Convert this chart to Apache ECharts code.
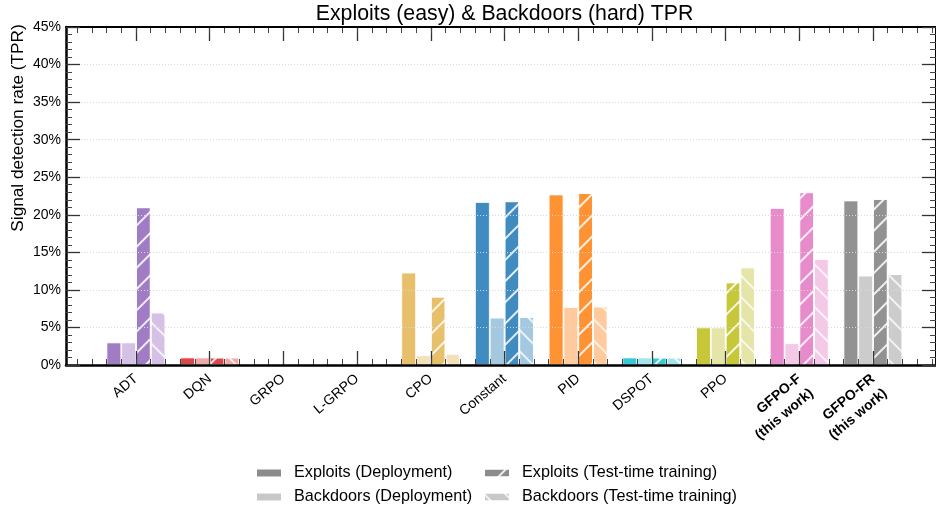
<!DOCTYPE html>
<html>
<head>
<meta charset="utf-8">
<script src="https://cdn.jsdelivr.net/npm/echarts@6/dist/echarts.min.js"></script>
<style>
html, body { margin: 0; padding: 0; background: #fff; }
#chart { width: 936px; height: 512px; }
</style>
</head>
<body>
<div id="chart"></div>
<script>
// Methods on the x axis (the last two are ours, drawn in bold)
const methods = ['ADT', 'DQN', 'GRPO', 'L-GRPO', 'CPO', 'Constant', 'PID', 'DSPOT', 'PPO',
  'GFPO-F\n(this work)', 'GFPO-FR\n(this work)'];
const boldMethods = ['GFPO-F\n(this work)', 'GFPO-FR\n(this work)'];

// Signal detection rate (TPR, %) per method
const exploitsDeployment  = [3.0, 1.0, 0.0, 0.0, 12.3, 21.7, 22.7, 1.0, 5.0, 20.9, 21.9];
const backdoorsDeployment = [3.0, 1.0, 0.0, 0.0, 1.3, 6.3, 7.7, 1.0, 5.0, 2.9, 11.9];
const exploitsTTT         = [21.0, 1.0, 0.1, 0.15, 9.1, 21.8, 22.9, 1.0, 11.0, 23.0, 22.1];
const backdoorsTTT        = [7.0, 1.0, 0.1, 0.15, 1.5, 6.4, 7.8, 1.0, 13.0, 14.1, 12.1];

// Y axis: 0% .. 45% in steps of 5%
const yMin = 0, yMax = 45, yStep = 5;

// Per-method colours: strong shade for exploits, pale shade for backdoors
const strongColors = ['#a07cc5', '#dc4748', '#9d6f66', '#4bae4b', '#e8c06c', '#408bbf',
  '#ff9232', '#3ac8d6', '#c6c739', '#e78bcb', '#929292'];
const paleColors = ['#d4c1e5', '#efa9a9', '#d0bbb7', '#abd9ab', '#f4e1ba', '#a5c8e1',
  '#ffcb9e', '#a2e5ec', '#e4e5a7', '#f4c9e7', '#cccccc'];

const FONT = '"Liberation Sans", Arial, Helvetica, sans-serif';

// Geometry of the bar slots: one category = UNIT px, centred at CENTER0 for the first
const UNIT = 73.7, CENTER0 = 136, FRAME_LEFT = 66, FRAME_W = 877, TOP = 27, PLOT_H = 338;
const frameMin = -(CENTER0 - FRAME_LEFT) / UNIT;
const frameMax = frameMin + FRAME_W / UNIT;

const hatchForward = {
  symbol: 'rect', symbolSize: 1, color: 'rgba(255,255,255,0.85)',
  dashArrayX: [1, 0], dashArrayY: [1.2, 12.6], rotation: -Math.PI / 4
};
const hatchBackward = {
  symbol: 'rect', symbolSize: 1, color: 'rgba(255,255,255,0.75)',
  dashArrayX: [1, 0], dashArrayY: [1.2, 12.6], rotation: Math.PI / 4
};

function barSeries(name, values, palette, legendColor, decal) {
  return {
    name: name,
    type: 'bar',
    xAxisIndex: 2,
    yAxisIndex: 2,
    barWidth: UNIT * 0.2,
    barGap: '0%',
    itemStyle: Object.assign({ color: legendColor, borderColor: '#fff', borderWidth: 0.8 },
      decal ? { decal: decal } : {}),
    emphasis: { disabled: true },
    data: values.map((v, i) => ({ value: v, itemStyle: { color: palette[i] } }))
  };
}

const hiddenY = (gridIndex) => ({
  type: 'value', gridIndex: gridIndex, min: yMin, max: yMax, interval: yStep,
  show: false
});

const legendBase = {
  icon: 'rect', itemWidth: 26, itemHeight: 9, padding: 0, selectedMode: false,
  textStyle: { fontFamily: FONT, fontSize: 16.2, color: '#000', padding: [0, 0, 0, 7] }
};

const minorTickAxis = (position) => ({
  type: 'value', gridIndex: 1, position: position, min: -0.8, max: methods.length - 1 + 0.8,
  interval: 0.2, z: 4,
  axisLine: { show: false, onZero: false },
  axisTick: { show: true, inside: true, length: 6, lineStyle: { color: '#444', width: 1 } },
  axisLabel: { show: false }, splitLine: { show: false }
});

const option = {
  animation: false,
  backgroundColor: '#fff',
  grid: [
    // frame with the percentage axes
    { left: FRAME_LEFT, top: TOP, width: FRAME_W, height: PLOT_H },
    // minor x ticks every 0.2 category
    { left: CENTER0 - 0.8 * UNIT, top: TOP, width: (methods.length - 1 + 1.6) * UNIT, height: PLOT_H },
    // bars, one band per method
    { left: CENTER0 - UNIT / 2, top: TOP, width: methods.length * UNIT, height: PLOT_H }
  ],
  xAxis: [
    { type: 'value', gridIndex: 0, position: 'bottom', min: frameMin, max: frameMax, z: 5,
      axisLine: { show: true, onZero: false, lineStyle: { color: '#000', width: 2.5 } },
      axisTick: { show: false }, axisLabel: { show: false }, splitLine: { show: false } },
    { type: 'value', gridIndex: 0, position: 'top', min: frameMin, max: frameMax, z: 5,
      axisLine: { show: true, onZero: false, lineStyle: { color: '#000', width: 2 } },
      axisTick: { show: false }, axisLabel: { show: false }, splitLine: { show: false } },
    { type: 'category', gridIndex: 2, position: 'bottom', z: 4,
      data: methods.map(m => boldMethods.includes(m)
        ? { value: m, textStyle: { fontWeight: 'bold', lineHeight: 19 } } : m),
      axisLine: { show: false, onZero: false },
      axisTick: { show: true, inside: true, alignWithLabel: true, length: 14,
        lineStyle: { color: '#333', width: 1.3 } },
      axisLabel: { interval: 0, rotate: 40, margin: 12, fontFamily: FONT, fontSize: 14,
        color: '#000', lineHeight: 16,
        // keep the first line of a two-line name where a one-line name would sit
        formatter: (v) => v.indexOf('\n') >= 0 ? ' \n' + v : v },
      splitLine: { show: false } },
    { type: 'category', gridIndex: 2, position: 'top', z: 4, data: methods,
      axisLine: { show: false, onZero: false },
      axisTick: { show: true, inside: true, alignWithLabel: true, length: 14,
        lineStyle: { color: '#333', width: 1.3 } },
      axisLabel: { show: false }, splitLine: { show: false } },
    minorTickAxis('bottom'),
    minorTickAxis('top')
  ],
  yAxis: [
    { type: 'value', gridIndex: 0, position: 'left', min: yMin, max: yMax, interval: yStep, z: 5,
      axisLine: { show: true, onZero: false, lineStyle: { color: '#000', width: 2.5 } },
      axisTick: { show: true, inside: true, length: 14, lineStyle: { color: '#333', width: 1.3 } },
      minorTick: { show: true, splitNumber: 5, length: 6, lineStyle: { color: '#444', width: 1 } },
      axisLabel: { formatter: '{value}%', margin: 5, fontFamily: FONT, fontSize: 14, color: '#000' },
      splitLine: { show: true, lineStyle: { color: '#d9d9d9', type: [1, 2], width: 1 } } },
    { type: 'value', gridIndex: 0, position: 'right', min: yMin, max: yMax, interval: yStep, z: 5,
      axisLine: { show: true, onZero: false, lineStyle: { color: '#000', width: 2 } },
      axisTick: { show: true, inside: true, length: 14, lineStyle: { color: '#333', width: 1.3 } },
      minorTick: { show: true, splitNumber: 5, length: 6, lineStyle: { color: '#444', width: 1 } },
      axisLabel: { show: false }, splitLine: { show: false } },
    hiddenY(2),
    hiddenY(1)
  ],
  legend: [
    Object.assign({}, legendBase, { data: ['Exploits (Deployment)'], left: 255, top: 465 }),
    Object.assign({}, legendBase, { data: ['Exploits (Test-time training)'], left: 483, top: 465 }),
    Object.assign({}, legendBase, { data: ['Backdoors (Deployment)'], left: 255, top: 489 }),
    Object.assign({}, legendBase, { data: ['Backdoors (Test-time training)'], left: 483, top: 489 })
  ],
  graphic: [
    { type: 'text', x: FRAME_LEFT + FRAME_W / 2, y: 14,
      style: { text: 'Exploits (easy) & Backdoors (hard) TPR', fontFamily: FONT, fontSize: 21.3,
        fill: '#000', align: 'center', verticalAlign: 'middle' } },
    { type: 'text', x: 18, y: 128, rotation: Math.PI / 2,
      style: { text: 'Signal detection rate (TPR)', fontFamily: FONT, fontSize: 17.2, fill: '#000',
        align: 'center', verticalAlign: 'middle' } }
  ],
  series: [
    barSeries('Exploits (Deployment)', exploitsDeployment, strongColors, '#8c8c8c', null),
    barSeries('Backdoors (Deployment)', backdoorsDeployment, paleColors, '#c8c8c8', null),
    barSeries('Exploits (Test-time training)', exploitsTTT, strongColors, '#8c8c8c', hatchForward),
    barSeries('Backdoors (Test-time training)', backdoorsTTT, paleColors, '#c8c8c8', hatchBackward)
  ]
};

const chart = echarts.init(document.getElementById('chart'), null, { renderer: 'canvas' });
chart.setOption(option);
</script>
</body>
</html>
